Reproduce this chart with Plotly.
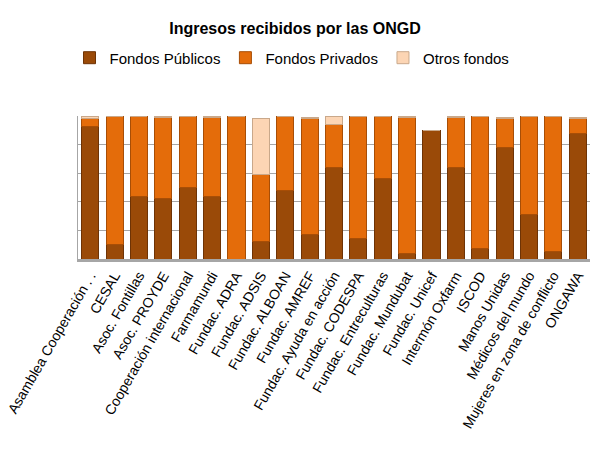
import plotly.graph_objects as go

categories = [
    "Asamblea Cooperación . .", "CESAL", "Asoc. Fontillas", "Asoc. PROYDE",
    "Cooperación internacional", "Farmamundi", "Fundac. ADRA", "Fundac. ADSIS",
    "Fundac. ALBOAN", "Fundac. AMREF", "Fundac. Ayuda en acción", "Fundac. CODESPA",
    "Fundac. Entreculturas", "Fundac. Mundubat", "Fundac. Unicef", "Intermón Oxfarm",
    "ISCOD", "Manos Unidas", "Médicos del mundo", "Mujeres en zona de conflicto", "ONGAWA",
]
fondos_publicos = [93, 10, 44, 42, 50, 44, 0, 12, 48, 17, 64, 14, 56, 4, 90, 64, 7, 78, 31, 5, 88]
fondos_privados = [5, 90, 56, 57, 50, 55, 100, 47, 52, 81, 30, 86, 44, 95, 0, 35, 93, 20, 69, 95, 10]
otros_fondos = [2, 0, 0, 1, 0, 1, 0, 39, 0, 1, 6, 0, 0, 1, 0, 1, 0, 1, 0, 0, 1]

fig = go.Figure()
fig.add_trace(go.Bar(x=categories, y=fondos_publicos, name="Fondos Públicos",
                     marker=dict(color="#9A4A08", line=dict(color="#6E3305", width=1))))
fig.add_trace(go.Bar(x=categories, y=fondos_privados, name="Fondos Privados",
                     marker=dict(color="#E46C0A", line=dict(color="#A84E06", width=1))))
fig.add_trace(go.Bar(x=categories, y=otros_fondos, name="Otros fondos",
                     marker=dict(color="#FCD5B4", line=dict(color="#C9A88A", width=1))))

fig.update_layout(
    barmode="stack",
    bargap=0.3,
    width=608, height=469,
    margin=dict(l=78, r=18, t=116, b=210, autoexpand=False),
    paper_bgcolor="white", plot_bgcolor="white",
    font=dict(family="Liberation Sans, Arial, sans-serif", color="black"),
    title=dict(text="<b>Ingresos recibidos por las ONGD</b>", x=295 / 608, xanchor="center",
               y=1 - 28 / 469, yanchor="middle", yref="container",
               font=dict(size=16, color="black")),
    legend=dict(orientation="h", x=(292 - 78) / 512, xanchor="center", y=1.406, yanchor="middle",
                font=dict(size=15), traceorder="normal", itemwidth=30,
                tracegroupgap=0),
    showlegend=True,
)
fig.update_xaxes(tickangle=-60, tickfont=dict(size=14), showline=True,
                 linecolor="#A6A6A6", linewidth=3, ticks="", automargin=False)
fig.update_yaxes(range=[0, 100], dtick=20, showticklabels=False, showgrid=True,
                 gridcolor="#A6A6A6", gridwidth=1, showline=True, linecolor="#A6A6A6",
                 linewidth=1, zeroline=False, ticks="", automargin=False)

fig.write_html("out.html", config={"displayModeBar": False},
               post_script="document.body.style.margin='0';")
